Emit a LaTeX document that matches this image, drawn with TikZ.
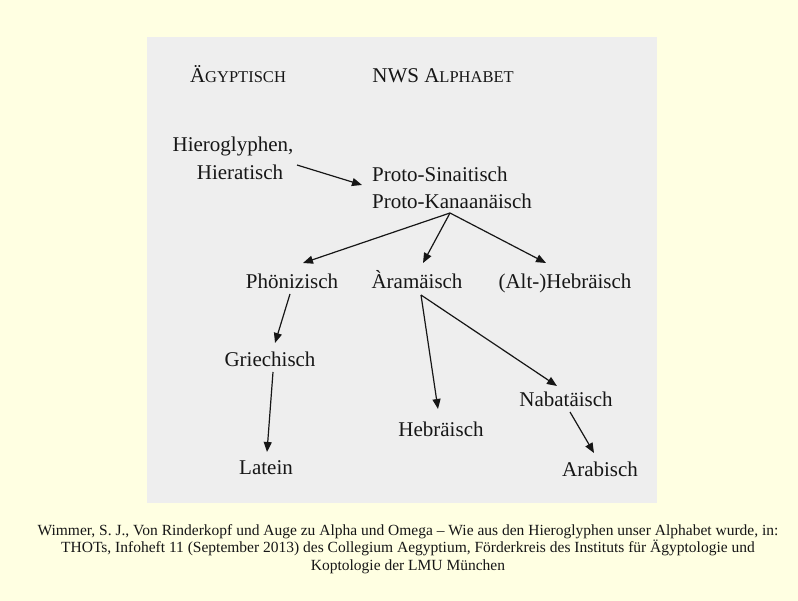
\documentclass[tikz,border=0pt]{standalone}
\usepackage{fontspec}
\setmainfont{Liberation Serif}
\usetikzlibrary{arrows.meta,calc}
\definecolor{bgyellow}{RGB}{255,255,226}
\definecolor{panelgray}{RGB}{238,238,238}
\definecolor{ink}{RGB}{22,22,22}
\newcommand\kapit[1]{{\fontsize{16.5}{18}\selectfont #1}}
\begin{document}
\begin{tikzpicture}[x=1pt,y=-1pt,
  lbl/.style={anchor=base,inner sep=0pt,text=ink,font=\fontsize{21}{25}\selectfont},
  srctext/.style={inner sep=0pt,align=center,text=ink,font=\fontsize{15.5}{17.5}\selectfont},
  arr/.style={draw=ink,line width=1.2pt,-{Triangle[length=10pt,width=8pt]}}]
\fill[bgyellow] (0,0) rectangle (798,601);
\fill[panelgray] (147,37) rectangle (657,503);
\useasboundingbox (0,0) rectangle (798,601);
% headings
\node[lbl] (aeg) at (238,83) {Ä\kapit{GYPTISCH}};
\node[lbl] (nws) at (443,83) {NWS A\kapit{LPHABET}};
% nodes
\node[lbl] (hgl) at (233,152) {Hieroglyphen,};
\node[lbl] (hier) at (240,180) {Hieratisch};
\node[lbl,anchor=base west] (ps) at (372,182) {Proto-Sinaitisch};
\node[lbl,anchor=base west] (pk) at (372,209) {Proto-Kanaanäisch};
\node[lbl] (pho) at (292,289) {Phönizisch};
\node[lbl] (ara) at (417,289) {Àramäisch};
\node[lbl] (alt) at (565,289) {(Alt-)Hebräisch};
\node[lbl] (gri) at (270,367) {Griechisch};
\node[lbl] (lat) at (266,475) {Latein};
\node[lbl] (heb) at (441,436) {Hebräisch};
\node[lbl] (nab) at (566,407) {Nabatäisch};
\node[lbl] (arab) at (600,476) {Arabisch};
% connectors
\draw[arr] ($(hier.base)+(57,-15)$) -- ($(ps.base west)+(-10,3)$);
\draw[arr] ($(pk.base west)+(78,4)$) -- ($(pho.base)+(11,-26)$);
\draw[arr] ($(pk.base west)+(78,4)$) -- ($(ara.base)+(6,-26)$);
\draw[arr] ($(pk.base west)+(78,4)$) -- ($(alt.base)+(-19,-26)$);
\draw[arr] ($(pho.base)+(-2,5)$) -- ($(gri.base)+(5,-24)$);
\draw[arr] ($(gri.base)+(3,5)$) -- ($(lat.base)+(1,-23)$);
\draw[arr] ($(ara.base)+(4,6)$) -- ($(heb.base)+(-3,-27)$);
\draw[arr] ($(ara.base)+(4,6)$) -- ($(nab.base)+(-9,-21)$);
\draw[arr] ($(nab.base)+(4,5)$) -- ($(arab.base)+(-6,-23)$);
% source
\node[srctext] (src) at (408,549) {Wimmer, S. J., Von Rinderkopf und Auge zu Alpha und Omega – Wie aus den Hieroglyphen unser Alphabet wurde, in:\\
THOTs, Infoheft 11 (September 2013) des Collegium Aegyptium, Förderkreis des Instituts für Ägyptologie und\\
Koptologie der LMU München};
\end{tikzpicture}
\end{document}
